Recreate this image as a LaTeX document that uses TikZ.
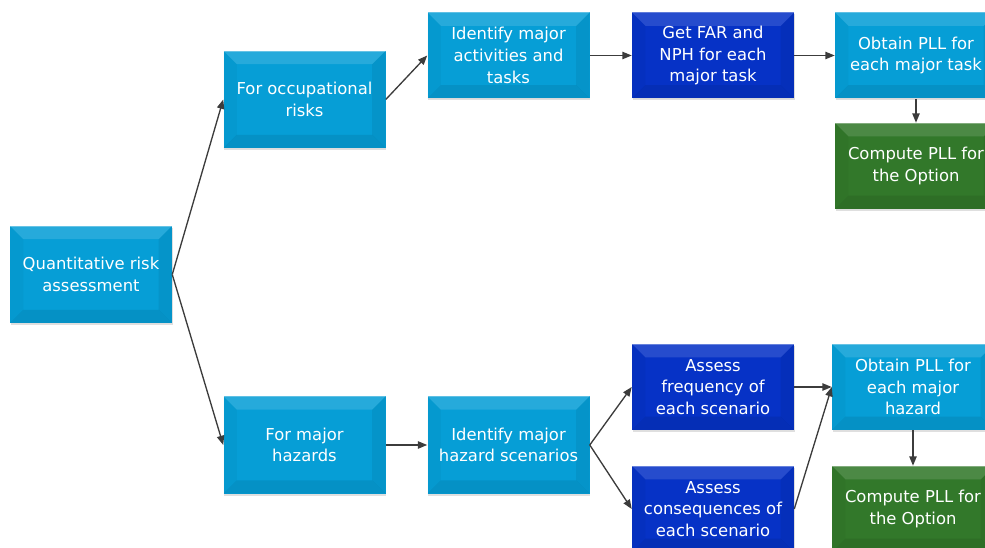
\documentclass[tikz,border=0pt]{standalone}
\usepackage{fontspec}
\setmainfont{DejaVu Sans}
\usetikzlibrary{arrows.meta,shadows}

\definecolor{qcyan}{RGB}{6,158,214}
\definecolor{qblue}{RGB}{6,50,198}
\definecolor{qgreen}{RGB}{50,120,42}
\definecolor{qline}{RGB}{60,60,60}

\newcommand{\bw}{10pt}

\begin{document}
\begin{tikzpicture}[x=0.75pt,y=-0.75pt,
    bevel/.style={path picture={
      \path (path picture bounding box.south west) coordinate (bl)
            (path picture bounding box.north east) coordinate (tr)
            (bl|-tr) coordinate (tl) (tr|-bl) coordinate (br);
      \fill[white,opacity=.13] (tl) -- (tr) -- ([shift={(-\bw,-\bw)}]tr) -- ([shift={(\bw,-\bw)}]tl) -- cycle;
      \fill[black,opacity=.08] (bl) -- (br) -- ([shift={(-\bw,\bw)}]br) -- ([shift={(\bw,\bw)}]bl) -- cycle;
      \fill[black,opacity=.03] (tl) -- (bl) -- ([shift={(\bw,\bw)}]bl) -- ([shift={(\bw,-\bw)}]tl) -- cycle;
      \fill[black,opacity=.06] (tr) -- (br) -- ([shift={(-\bw,\bw)}]br) -- ([shift={(-\bw,-\bw)}]tr) -- cycle;
      \draw[white,opacity=.3,line width=1.2pt] (tl) -- (tr);
    }},
    box/.style={rectangle,minimum width=121.5pt,minimum height=64.5pt,inner sep=0pt,
      align=center,text=white,font=\fontsize{12.3}{16.3}\selectfont,bevel,
      drop shadow={shadow xshift=0.6pt,shadow yshift=-1.4pt,opacity=.25}},
    tall/.style={minimum height=73pt},
    cyanbox/.style={box,fill=qcyan},
    bluebox/.style={box,fill=qblue},
    greenbox/.style={box,fill=qgreen},
    arr/.style={qline,line width=1pt,-{Triangle[length=7pt,width=5.5pt]}}]
  \useasboundingbox (0,0) rectangle (985,548);
  \clip (0,0) rectangle (985,548);

  % ---- root and the two branches ----
  \node[cyanbox,tall] (qra) at (91,274.5) {Quantitative risk\\assessment};
  \node[cyanbox,tall] (occ) at (304.5,99.5) {For occupational\\risks};
  \node[cyanbox,tall] (haz) at (304.5,445) {For major\\hazards};

  % ---- occupational risks ----
  \node[cyanbox] (act)  at (508.5,55.5) {Identify major\\activities and\\tasks};
  \node[bluebox] (far)  at (713,55.5) {Get FAR and\\NPH for each\\major task};
  \node[cyanbox] (pllt) at (916,55.5) {Obtain PLL for\\each major task};
  \node[greenbox] (cmpt) at (916,166) {Compute PLL for\\the Option};

  % ---- major hazards ----
  \node[cyanbox,tall] (scen) at (508.5,445) {Identify major\\hazard scenarios};
  \node[bluebox] (freq) at (713,387) {Assess\\frequency of\\each scenario};
  \node[bluebox] (cons) at (713,509) {Assess\\consequences of\\each scenario};
  \node[cyanbox] (pllh) at (913,387) {Obtain PLL for\\each major\\hazard};
  \node[greenbox] (cmph) at (913,509) {Compute PLL for\\the Option};

  % ---- connectors ----
  \draw[arr] (qra.east) -- (occ.west);
  \draw[arr] (qra.east) -- (haz.west);
  \draw[arr] (occ.east) -- (act.west);
  \draw[arr] (act.east) -- (far.west);
  \draw[arr] (far.east) -- (pllt.west);
  \draw[arr] (pllt.south) -- (cmpt.north);
  \draw[arr] (haz.east) -- (scen.west);
  \draw[arr] (scen.east) -- (freq.west);
  \draw[arr] (scen.east) -- (cons.west);
  \draw[arr] (freq.east) -- (pllh.west);
  \draw[arr] (cons.east) -- (pllh.west);
  \draw[arr] (pllh.south) -- (cmph.north);
\end{tikzpicture}
\end{document}
